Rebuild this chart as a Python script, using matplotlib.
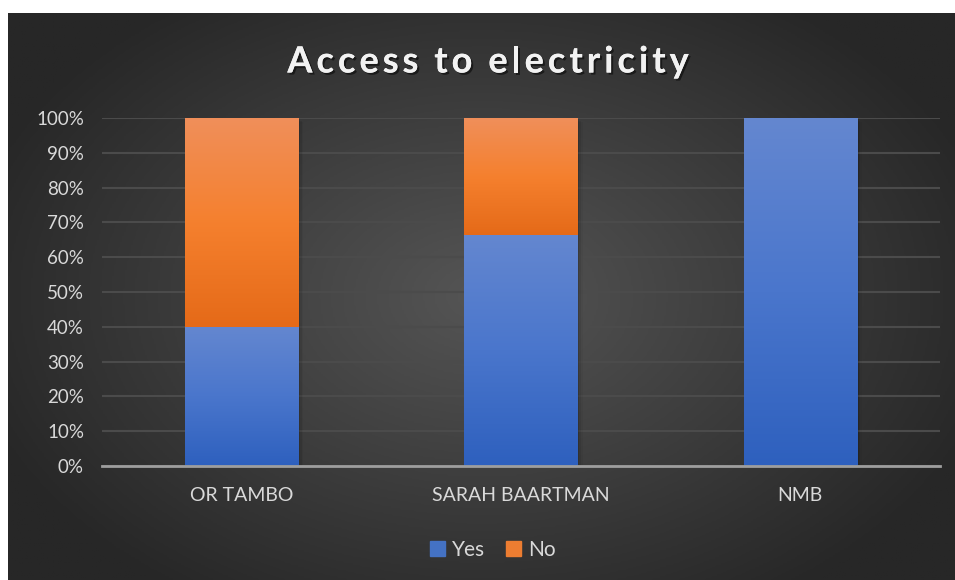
import numpy as np
import matplotlib.pyplot as plt
import matplotlib.patheffects as pe
from matplotlib.colors import LinearSegmentedColormap
from matplotlib.patches import Patch

# Share of households with / without electricity per district
districts = ["OR TAMBO", "SARAH BAARTMAN", "NMB"]
yes_share = [0.40, 0.665, 1.00]
no_share = [0.60, 0.335, 0.00]
title = "Access to electricity"

text_col = "#d9d9d9"
blue_grad = LinearSegmentedColormap.from_list("blue", ["#2e60be", "#4a76cc", "#6487d0"])
orange_grad = LinearSegmentedColormap.from_list("orange", ["#e56a18", "#f5802e", "#f08f5a"])

plt.rcParams['font.family'] = ['Lato', 'DejaVu Sans']

fig = plt.figure(figsize=(9.55, 5.8), dpi=100)
fig.patch.set_facecolor("white")

# dark panel with soft radial highlight
bg = fig.add_axes([8 / 955, 0, 947 / 955, 567 / 580])
bg.set_axis_off()
yy, xx = np.mgrid[0:1:300j, 0:1:500j]
r = np.sqrt(((xx - 0.5) / 0.75) ** 2 + ((yy - 0.5) / 0.85) ** 2)
shade = np.clip(1 - r / 0.75, 0, 1)
bg_cmap = LinearSegmentedColormap.from_list("bg", ["#272727", "#555555"])
bg.imshow(shade, cmap=bg_cmap, aspect="auto", extent=[0, 1, 0, 1], vmin=0, vmax=1)
bg.set_xlim(0, 1)
bg.set_ylim(0, 1)

ax = fig.add_axes([102 / 955, 1 - 466 / 580, 838 / 955, 348 / 580])
ax.patch.set_alpha(0)

x = np.arange(len(districts))
width = 0.405
bars_yes = ax.bar(x, yes_share, width, label="Yes", color="#4472c4", zorder=3)
bars_no = ax.bar(x, no_share, width, bottom=yes_share, label="No", color="#ed7d31", zorder=3)

# vertical gradient fill clipped to each bar, plus a soft drop shadow
grad = np.linspace(0, 1, 256).reshape(-1, 1)
for bars, cmap in ((bars_yes, blue_grad), (bars_no, orange_grad)):
    for b in bars:
        if b.get_height() <= 0:
            continue
        bx, by = b.get_x(), b.get_y()
        bw, bh = b.get_width(), b.get_height()
        for k, a in enumerate([0.10, 0.07, 0.04]):
            off = 0.006 * (k + 1)
            ax.add_patch(plt.Rectangle((bx + off, by - 0.004 * (k + 1)), bw, bh,
                                       color="black", alpha=a, lw=0, zorder=2))
        im = ax.imshow(grad, cmap=cmap, aspect="auto", origin="lower",
                       extent=[bx, bx + bw, by, by + bh], zorder=4)
        im.set_clip_path(b)

ax.set_xlim(-0.5, 2.5)
ax.set_ylim(0, 1)

ax.set_yticks(np.arange(0, 1.01, 0.1))
ax.set_yticklabels([f"{int(round(v * 100))}%" for v in np.arange(0, 1.01, 0.1)])
ax.set_xticks(x)
ax.set_xticklabels(districts)
ax.tick_params(colors=text_col, length=0)
ax.tick_params(axis="x", pad=15, labelsize=14)
ax.tick_params(axis="y", pad=13, labelsize=13.5)

ax.grid(axis="y", color="#4b4b4b", lw=1.5, zorder=1)
for side in ["top", "right", "left"]:
    ax.spines[side].set_visible(False)
ax.spines["bottom"].set_color("#9e9e9e")
ax.spines["bottom"].set_linewidth(2)
ax.spines["bottom"].set_zorder(5)

# letter-spaced title, laid out one glyph at a time
renderer = fig.canvas.get_renderer()
spacing = 4.0
shadow = [pe.withSimplePatchShadow(offset=(1.5, -1.5), shadow_rgbFace="black", alpha=0.5)]
pieces = []
total = 0.0
for ch in title:
    t = fig.text(0, 0, ch, fontsize=26, fontweight="bold", color="#f2f2f2",
                 va="center", ha="left")
    w = t.get_window_extent(renderer).width if ch != " " else 8.0
    pieces.append((t, w))
    total += w + spacing
total -= spacing
cx = 488 - total / 2
for t, w in pieces:
    t.set_position((cx / 955, 1 - 62 / 580))
    t.set_path_effects(shadow + [pe.Normal()])
    cx += w + spacing

handles = [Patch(color="#4472c4", label="Yes"), Patch(color="#ed7d31", label="No")]
fig.legend(handles=handles, loc="center", bbox_to_anchor=(493 / 955, 1 - 550 / 580),
           ncol=2, frameon=False, fontsize=15, labelcolor=text_col,
           handlelength=0.7, handleheight=0.7, handletextpad=0.35, columnspacing=1.0)

fig.savefig("out.png", dpi=100, facecolor=fig.get_facecolor())
